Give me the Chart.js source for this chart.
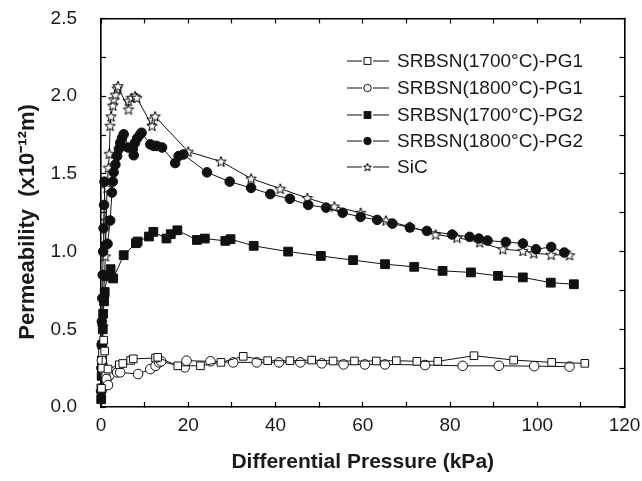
<!DOCTYPE html>
<html>
<head>
<meta charset="utf-8">
<script src="https://cdn.jsdelivr.net/npm/chart.js@4"></script>
<style>
html, body { margin: 0; padding: 0; background: #fff; }
</style>
</head>
<body>
<canvas id="grafico" width="642" height="481"></canvas>
<script>
// datos (kPa, x10^-12 m)
const pg1_1700_x = [0.1, 0.2, 0.35, 0.6, 0.85, 1.6, 4.2, 5.0, 6.8, 7.4, 12.5, 13.0, 17.6, 22.8, 27.5, 32.6, 38.2, 43.3, 48.3, 53.2, 58.1, 63.1, 67.7, 72.4, 77.2, 85.5, 94.6, 103.3, 110.9];
const pg1_1700_y = [0.12, 0.25, 0.35, 0.43, 0.36, 0.244, 0.272, 0.28, 0.30, 0.31, 0.315, 0.32, 0.265, 0.265, 0.287, 0.326, 0.298, 0.298, 0.302, 0.296, 0.296, 0.296, 0.298, 0.294, 0.294, 0.33, 0.302, 0.287, 0.281];

const pg1_1800_x = [0.2, 0.5, 1.0, 1.2, 1.6, 3.7, 4.4, 8.5, 11.3, 12.5, 13.3, 13.8, 19.2, 19.6, 25.1, 30.3, 35.7, 40.8, 45.7, 50.6, 55.6, 60.5, 65.1, 74.3, 82.9, 91.2, 99.3, 107.4];
const pg1_1800_y = [0.30, 0.24, 0.20, 0.18, 0.141, 0.223, 0.223, 0.212, 0.244, 0.265, 0.287, 0.294, 0.255, 0.298, 0.294, 0.287, 0.287, 0.287, 0.287, 0.281, 0.274, 0.274, 0.274, 0.27, 0.265, 0.265, 0.263, 0.26];

const pg2_1700_x = [0.05, 0.1, 0.15, 0.2, 0.3, 0.4, 0.5, 0.7, 0.85, 1.4, 2.2, 2.8, 5.2, 8.0, 8.4, 11.0, 12.0, 15.0, 16.0, 17.5, 22.0, 23.8, 28.5, 29.7, 35.0, 42.9, 50.4, 57.8, 65.1, 71.8, 78.3, 84.8, 91.0, 96.7, 103.1, 108.4];
const pg2_1700_y = [0.05, 0.12, 0.2, 0.3, 0.4, 0.5, 0.6, 0.68, 0.74, 0.84, 0.887, 0.827, 0.977, 1.054, 1.065, 1.097, 1.127, 1.084, 1.112, 1.137, 1.075, 1.084, 1.069, 1.08, 1.037, 1.0, 0.972, 0.945, 0.919, 0.902, 0.876, 0.866, 0.844, 0.834, 0.80, 0.79];

const pg2_1800_x = [0.05, 0.1, 0.15, 0.2, 0.3, 0.4, 0.5, 0.6, 0.7, 0.8, 1.0, 1.5, 2.1, 2.5, 2.7, 2.9, 3.3, 3.7, 4.1, 4.4, 4.8, 5.2, 6.2, 7.5, 7.3, 7.8, 8.3, 9.0, 9.3, 11.3, 12.1, 12.8, 14.0, 17.0, 17.8, 18.9, 24.3, 29.5, 34.4, 38.8, 43.3, 47.5, 51.6, 55.4, 59.5, 63.3, 66.8, 70.8, 74.7, 80.5, 84.5, 86.6, 88.6, 92.8, 96.7, 99.7, 103.2, 106.2];
const pg2_1800_y = [0.1, 0.25, 0.4, 0.55, 0.7, 0.85, 1.0, 1.15, 1.3, 1.45, 1.04, 1.05, 1.2, 1.38, 1.45, 1.51, 1.56, 1.615, 1.66, 1.70, 1.73, 1.755, 1.67, 1.62, 1.66, 1.70, 1.73, 1.755, 1.765, 1.69, 1.68, 1.68, 1.67, 1.57, 1.615, 1.625, 1.51, 1.45, 1.41, 1.37, 1.34, 1.30, 1.283, 1.25, 1.223, 1.204, 1.18, 1.155, 1.133, 1.11, 1.095, 1.084, 1.071, 1.062, 1.052, 1.015, 1.03, 0.994];

const sic_x = [0.1, 0.2, 0.3, 0.4, 0.6, 0.8, 1.0, 1.2, 1.4, 1.7, 1.9, 2.1, 2.3, 2.7, 2.9, 3.3, 3.7, 3.9, 6.3, 6.3, 7.0, 7.8, 8.2, 11.7, 11.7, 12.4, 20.0, 27.5, 34.4, 41.1, 47.3, 53.5, 59.5, 65.3, 70.8, 76.7, 81.6, 86.8, 92.1, 96.7, 99.2, 103.2, 107.4];
const sic_y = [0.1, 0.25, 0.4, 0.52, 0.7, 0.85, 0.97, 1.2, 1.41, 1.54, 1.63, 1.81, 1.87, 1.94, 1.98, 2.01, 2.05, 2.065, 1.915, 1.97, 1.99, 2.0, 1.99, 1.81, 1.85, 1.87, 1.643, 1.58, 1.47, 1.405, 1.345, 1.29, 1.25, 1.20, 1.16, 1.11, 1.09, 1.06, 1.015, 1.005, 0.99, 0.98, 0.977];

const etiquetas = ["SRBSN(1700\u00B0C)-PG1", "SRBSN(1800\u00B0C)-PG1", "SRBSN(1700\u00B0C)-PG2", "SRBSN(1800\u00B0C)-PG2", "SiC"];

const fuente = "Liberation Sans, Arial, sans-serif";

// estrella abierta de 5 puntas
function hacerEstrella(r) {
    const c = document.createElement("canvas");
    const t = Math.ceil(r * 2 + 3);
    c.width = t; c.height = t;
    const ctx = c.getContext("2d");
    const cx = t / 2, cy = t / 2 + 0.5;
    ctx.beginPath();
    for (let i = 0; i < 10; i++) {
        const rr = i % 2 === 0 ? r : r * 0.42;
        const a = -Math.PI / 2 + i * Math.PI / 5;
        const px = cx + rr * Math.cos(a), py = cy + rr * Math.sin(a);
        if (i === 0) ctx.moveTo(px, py); else ctx.lineTo(px, py);
    }
    ctx.closePath();
    ctx.fillStyle = "#fff";
    ctx.fill();
    ctx.lineWidth = 1;
    ctx.strokeStyle = "#000";
    ctx.stroke();
    return c;
}
const estrella = hacerEstrella(5.5);
const estrellaChica = hacerEstrella(4.2);

function puntos(xs, ys) {
    return xs.map((x, i) => ({ x: x, y: ys[i] }));
}

function serie(label, xs, ys, estilo, relleno, radio) {
    return {
        label: label,
        data: puntos(xs, ys),
        xAxisID: "x",
        yAxisID: "y",
        showLine: true,
        borderColor: "#111",
        borderWidth: 1,
        pointStyle: estilo,
        pointRadius: radio,
        pointBorderWidth: 1,
        pointBorderColor: "#111",
        pointBackgroundColor: relleno,
        clip: false
    };
}

const datasets = [
    serie(etiquetas[0], pg1_1700_x, pg1_1700_y, "rect", "#fff", 5.4),
    serie(etiquetas[1], pg1_1800_x, pg1_1800_y, "circle", "#fff", 4.8),
    serie(etiquetas[2], pg2_1700_x, pg2_1700_y, "rect", "#111", 6.2),
    serie(etiquetas[3], pg2_1800_x, pg2_1800_y, "circle", "#111", 4.8),
    serie(etiquetas[4], sic_x, sic_y, estrella, "#fff", 5.5)
];

// leyenda: linea - marcador - linea, texto
const leyendaPlugin = {
    id: "leyenda",
    afterDraw(chart) {
        const ctx = chart.ctx;
        const filas = [61, 88, 115, 141, 167];
        ctx.save();
        chart.data.datasets.forEach((ds, i) => {
            const y = filas[i];
            ctx.fillStyle = "#111";
            ctx.fillRect(347, y - 0.5, 15, 1);
            ctx.fillRect(373, y - 0.5, 16, 1);
            const mx = 367.5;
            ctx.strokeStyle = "#111";
            ctx.lineWidth = 1;
            ctx.fillStyle = ds.pointBackgroundColor;
            if (ds.pointStyle === "rect") {
                const s = 3.4;
                ctx.fillRect(mx - s, y - s, 2 * s, 2 * s);
                ctx.strokeRect(mx - s, y - s, 2 * s, 2 * s);
            } else if (ds.pointStyle === "circle") {
                ctx.beginPath();
                ctx.arc(mx, y, 3.7, 0, Math.PI * 2);
                ctx.fill();
                ctx.stroke();
            } else {
                ctx.drawImage(estrellaChica, mx - estrellaChica.width / 2, y - estrellaChica.height / 2);
            }
            ctx.fillStyle = "#1a1a1a";
            ctx.font = "19px " + fuente;
            ctx.textBaseline = "middle";
            ctx.textAlign = "left";
            ctx.fillText(ds.label, 397, y + 1);
        });
        ctx.restore();
    }
};

// marcas hacia adentro (longitud negativa), marco con el borde de los ejes
const rejilla = {
    display: true,
    drawOnChartArea: false,
    drawTicks: true,
    tickLength: -5,
    tickColor: "#000",
    tickWidth: 1.2
};
const borde = { display: true, color: "#000", width: 1.6 };

new Chart("grafico", {
    type: "scatter",
    data: { datasets: datasets },
    options: {
        responsive: false,
        animation: false,
        devicePixelRatio: 1,
        layout: { padding: { top: 18.5, right: 17.5, left: 0, bottom: 0 } },
        plugins: {
            legend: { display: false },
            tooltip: { enabled: false }
        },
        scales: {
            x: {
                type: "linear",
                position: "bottom",
                min: 0,
                max: 120,
                afterFit: (s) => {
                    s.height = 74;
                    s.paddingLeft = 0;
                    s.paddingRight = 0;
                },
                grid: rejilla,
                border: borde,
                ticks: {
                    stepSize: 10,
                    autoSkip: false,
                    maxRotation: 0,
                    padding: 12,
                    color: "#1a1a1a",
                    font: { family: fuente, size: 19 },
                    callback: (v) => (Math.round(v) % 20 === 0 ? String(v) : "")
                },
                title: {
                    display: true,
                    text: "Differential Pressure (kPa)",
                    color: "#1a1a1a",
                    padding: { top: 0, bottom: 6 },
                    font: { family: fuente, size: 21, weight: "bold" }
                }
            },
            y: {
                type: "linear",
                position: "left",
                min: 0,
                max: 2.5,
                afterFit: (s) => {
                    s.width = 101;
                    s.paddingTop = 0;
                    s.paddingBottom = 0;
                },
                grid: rejilla,
                border: borde,
                ticks: {
                    stepSize: 0.25,
                    autoSkip: false,
                    padding: 29,
                    color: "#1a1a1a",
                    font: { family: fuente, size: 19 },
                    callback: (v) => (Math.round(v * 4) % 2 === 0 ? Number(v).toFixed(1) : "")
                },
                title: {
                    display: true,
                    text: "Permeability  (x10\u207B\u00B9\u00B2m)   ",
                    color: "#1a1a1a",
                    padding: { top: 15, bottom: 0 },
                    font: { family: fuente, size: 22, weight: "bold" }
                }
            },
            x2: {
                type: "linear",
                axis: "x",
                position: "top",
                min: 0,
                max: 120,
                afterFit: (s) => {
                    s.height = 0;
                    s.paddingLeft = 0;
                    s.paddingRight = 0;
                },
                grid: rejilla,
                border: borde,
                ticks: { stepSize: 10, autoSkip: false, display: false }
            },
            y2: {
                type: "linear",
                axis: "y",
                position: "right",
                min: 0,
                max: 2.5,
                afterFit: (s) => {
                    s.width = 0;
                    s.paddingTop = 0;
                    s.paddingBottom = 0;
                },
                grid: rejilla,
                border: borde,
                ticks: { stepSize: 0.25, autoSkip: false, display: false }
            }
        }
    },
    plugins: [leyendaPlugin]
});
</script>
</body>
</html>
